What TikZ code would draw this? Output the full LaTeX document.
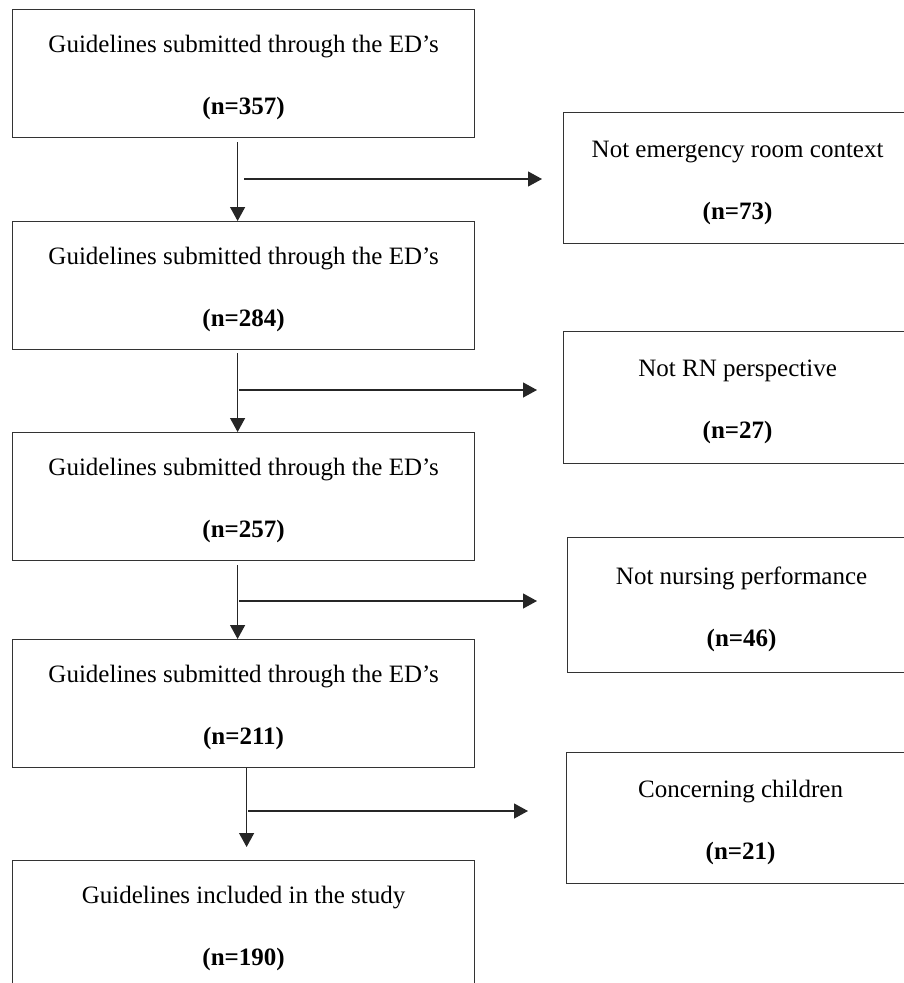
\documentclass[tikz,border=0pt]{standalone}
\usepackage{fontspec}
\setmainfont{Liberation Serif}
\usetikzlibrary{arrows.meta}

\tikzstyle{lbox} = [draw=black!80, line width=1.2pt, minimum width=462pt, minimum height=128pt, align=center, inner sep=0pt, anchor=north west, text depth=0pt, text height=82pt]
\tikzstyle{rbox} = [draw=black!80, line width=1.2pt, minimum width=348pt, minimum height=131pt, align=center, inner sep=0pt, anchor=north west, text depth=0pt, text height=82pt]
\tikzstyle{arr} = [draw=black!85, line width=1.2pt, -{Triangle[length=14pt,width=15pt]}]

\begin{document}
\begin{tikzpicture}[x=1pt, y=-1pt,
font=\fontsize{25}{30}\selectfont,
]
\useasboundingbox (0,0) rectangle (903,983);

% Left column
\node[lbox] (b1) at (12,9)   {Guidelines submitted through the ED’s\\[32pt]\textbf{(n=357)}};
\node[lbox] (b2) at (12,221) {Guidelines submitted through the ED’s\\[32pt]\textbf{(n=284)}};
\node[lbox] (b3) at (12,432) {Guidelines submitted through the ED’s\\[32pt]\textbf{(n=257)}};
\node[lbox] (b4) at (12,639) {Guidelines submitted through the ED’s\\[32pt]\textbf{(n=211)}};
\node[lbox] (b5) at (12,860) {Guidelines included in the study\\[32pt]\textbf{(n=190)}};

% Excluded
\node[rbox] (rA) at (563,112) {Not emergency room context\\[32pt]\textbf{(n=73)}};
\node[rbox, minimum height=132pt] (rB) at (563,331) {Not RN perspective\\[32pt]\textbf{(n=27)}};
\node[rbox, minimum height=135pt] (rC) at (567,537) {Not nursing performance\\[32pt]\textbf{(n=46)}};
\node[rbox] (rD) at (566,752) {Concerning children\\[32pt]\textbf{(n=21)}};

%STEP1
\coordinate (j1) at (244,179);
\draw[arr, shorten <=4pt] ([xshift=-6pt]b1.south) -- ([xshift=-6pt]b2.north);
\draw[arr, shorten >=21pt] (j1) -- (j1 -| rA.west);

%STEP2
\coordinate (j2) at (239,390);
\draw[arr, shorten <=3pt] ([xshift=-6pt]b2.south) -- ([xshift=-6pt]b3.north);
\draw[arr, shorten >=26pt] (j2) -- (j2 -| rB.west);

%STEP3
\coordinate (j3) at (239,601);
\draw[arr, shorten <=4pt] ([xshift=-6pt]b3.south) -- ([xshift=-6pt]b4.north);
\draw[arr, shorten >=30pt] (j3) -- (j3 -| rC.west);

%STEP4
\coordinate (j4) at (248,811);
\draw[arr, shorten >=13pt] ([xshift=3pt]b4.south) -- ([xshift=3pt]b5.north);
\draw[arr, shorten >=38pt] (j4) -- (j4 -| rD.west);
\end{tikzpicture}
\end{document}
